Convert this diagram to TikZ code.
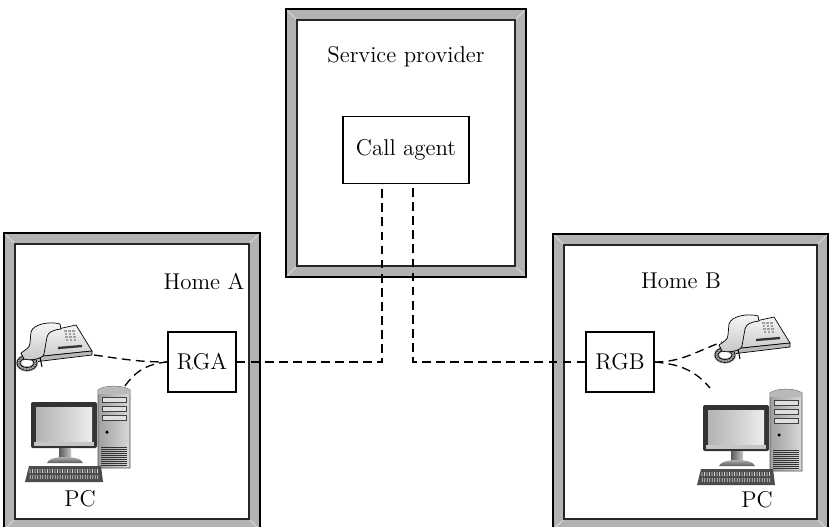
\documentclass[tikz,border=0pt]{standalone}
\usetikzlibrary{calc}
\definecolor{framegray}{gray}{0.70}
\definecolor{bevelgray}{gray}{0.86}
\newcommand{\labelfont}{\fontsize{13}{15}\selectfont}
% gray picture-frame border, given by its outer corners
\newcommand{\homeframe}[4]{%
  \fill[framegray] (#1,#2) rectangle (#3,#4);
  \draw[bevelgray,line width=0.5pt] (#1,#2) -- ++(11,11) (#3,#2) -- ++(-11,11)
    (#1,#4) -- ++(11,-11) (#3,#4) -- ++(-11,-11);
  \draw[line width=0.8pt] (#1,#2) rectangle (#3,#4);
  \draw[line width=1.2pt,black!85,fill=white] (#1+11,#2+11) rectangle (#3-11,#4-11);
}
\tikzset{
  box/.style={draw,line width=0.7pt,fill=white,inner sep=0pt,font=\labelfont},
  link/.style={line width=0.75pt,dash pattern=on 5pt off 3pt},
  phone/.pic={
    \shade[top color=gray!8,bottom color=gray!40,draw=black,line width=0.4pt]
      (22,10) -- (58,2) -- (74,28) -- (16,34) -- cycle;
    \fill[gray!55,draw=black,line width=0.4pt] (16,34) -- (74,28) -- (74,32) -- (16,39) -- cycle;
    \foreach \i in {0,1,2}
      \foreach \j in {0,1,2,3}
        \fill[gray!75] (46+4*\i+0.6*\j,7+3*\j) rectangle ++(2.6,1.8);
    \draw[line width=1.3pt,black!80] (40,25) -- (64,23);
    \draw[line width=3pt,gray!60] (9,40) ellipse [x radius=0.17cm,y radius=0.12cm];
    \draw[line width=0.4pt] (9,40) ellipse [x radius=0.2cm,y radius=0.15cm]
      (9,40) ellipse [x radius=0.14cm,y radius=0.09cm];
    \foreach \a in {0,20,...,340}
      \draw[line width=0.3pt,black!70] ($(9,40)+(\a:0.14cm and 0.09cm)$) -- ($(9,40)+(\a+8:0.2cm and 0.15cm)$);
    \draw[line width=0.6pt] (22,34) -- (24,44);
    \shade[top color=gray!5,bottom color=gray!45,draw=black,line width=0.4pt]
      (13,9) .. controls (15,1) and (32,-2) .. (42,1) -- (43,6)
      .. controls (35,7) and (30,9) .. (29,14) -- (26,31)
      .. controls (25,36) and (12,38) .. (6,36) -- (3,30)
      .. controls (7,27) and (12,25) .. (12,20) -- cycle;
  },
  pc/.pic={
    % tower
    \shade[left color=gray!75,right color=gray!30,draw=black!70,line width=0.4pt]
      (73,5) .. controls (80,0) and (98,0) .. (105,5) -- (105,83) -- (73,83) -- cycle;
    \fill[gray!55] (73,5) .. controls (80,0) and (98,0) .. (105,5) -- (105,9) -- (73,9) -- cycle;
    \foreach \y in {12,21,30}
      \draw[fill=gray!25,draw=gray!50!black,line width=0.3pt] (77,\y) rectangle (101,\y+5);
    \fill[black] (82,47) circle (0.035cm);
    \foreach \y in {62,64,...,80}
      \draw[gray!40!black,line width=0.3pt] (76,\y) -- (102,\y);
    % monitor
    \fill[black!80,rounded corners=0.04cm] (6,17) rectangle (72,63);
    \shade[left color=gray!60,right color=gray!15] (11,22) rectangle (67,56);
    \fill[gray!45] (9,57) rectangle (69,61);
    \shade[left color=gray!70!black,right color=gray!45] (34,63) rectangle (46,72);
    \shade[top color=gray!40,bottom color=gray!70!black]
      (22,78) .. controls (24,70) and (56,70) .. (58,78) -- cycle;
    % keyboard
    \fill[black!70] (4,81) -- (76,81) -- (78,97) -- (0,97) -- cycle;
    \foreach \x in {5,7.5,...,74}
      \draw[gray!35,line width=0.45pt] (\x,84) -- (\x+0.3,94);
    \draw[black!70,line width=0.8pt] (3,89) -- (77,89);
  }
}
\begin{document}
\begin{tikzpicture}[x=0.02cm,y=-0.02cm]
\useasboundingbox (0,0) rectangle (829,527);
\clip (0,0) rectangle (829,527);

\homeframe{286}{9}{526}{277}
\homeframe{4}{233}{260}{530}
\homeframe{553}{234}{828}{530}

\node[font=\labelfont] (sp) at (406,57) {Service provider};
\node[font=\labelfont] (homea) at (204,281) {Home A};
\node[font=\labelfont] (homeb) at (681,281) {Home B};

\node[box,minimum width=2.52cm,minimum height=1.34cm] (ca) at (406,150) {Call agent};
\node[box,minimum width=1.36cm,minimum height=1.2cm] (rga) at (202,362) {RGA};
\node[box,minimum width=1.36cm,minimum height=1.2cm] (rgb) at (620,362) {RGB};

\pic at (18,323) {phone};
\pic at (716,315) {phone};
\pic at (25,385) {pc};
\pic at (697,388) {pc};
\node[font=\labelfont] (pca) at (80,499) {PC};
\node[font=\labelfont] (pcb) at (757,500) {PC};

\coordinate (pha) at (94,355);
\coordinate (pcat) at (125,386);
\coordinate (phb) at (722,342);
\coordinate (pcbt) at (710,388);

\draw[link] (rga.east) -| ($(ca.south)+(-24,0)$);
\draw[link] (rgb.west) -| ($(ca.south)+(7,0)$);
\draw[link] (pha) to[out=-8,in=180] (rga.west);
\draw[link] (pcat) to[out=55,in=185] (rga.west);
\draw[link] (rgb.east) to[out=0,in=200] (phb);
\draw[link] (rgb.east) to[out=-5,in=130] (pcbt);
\end{tikzpicture}
\end{document}
